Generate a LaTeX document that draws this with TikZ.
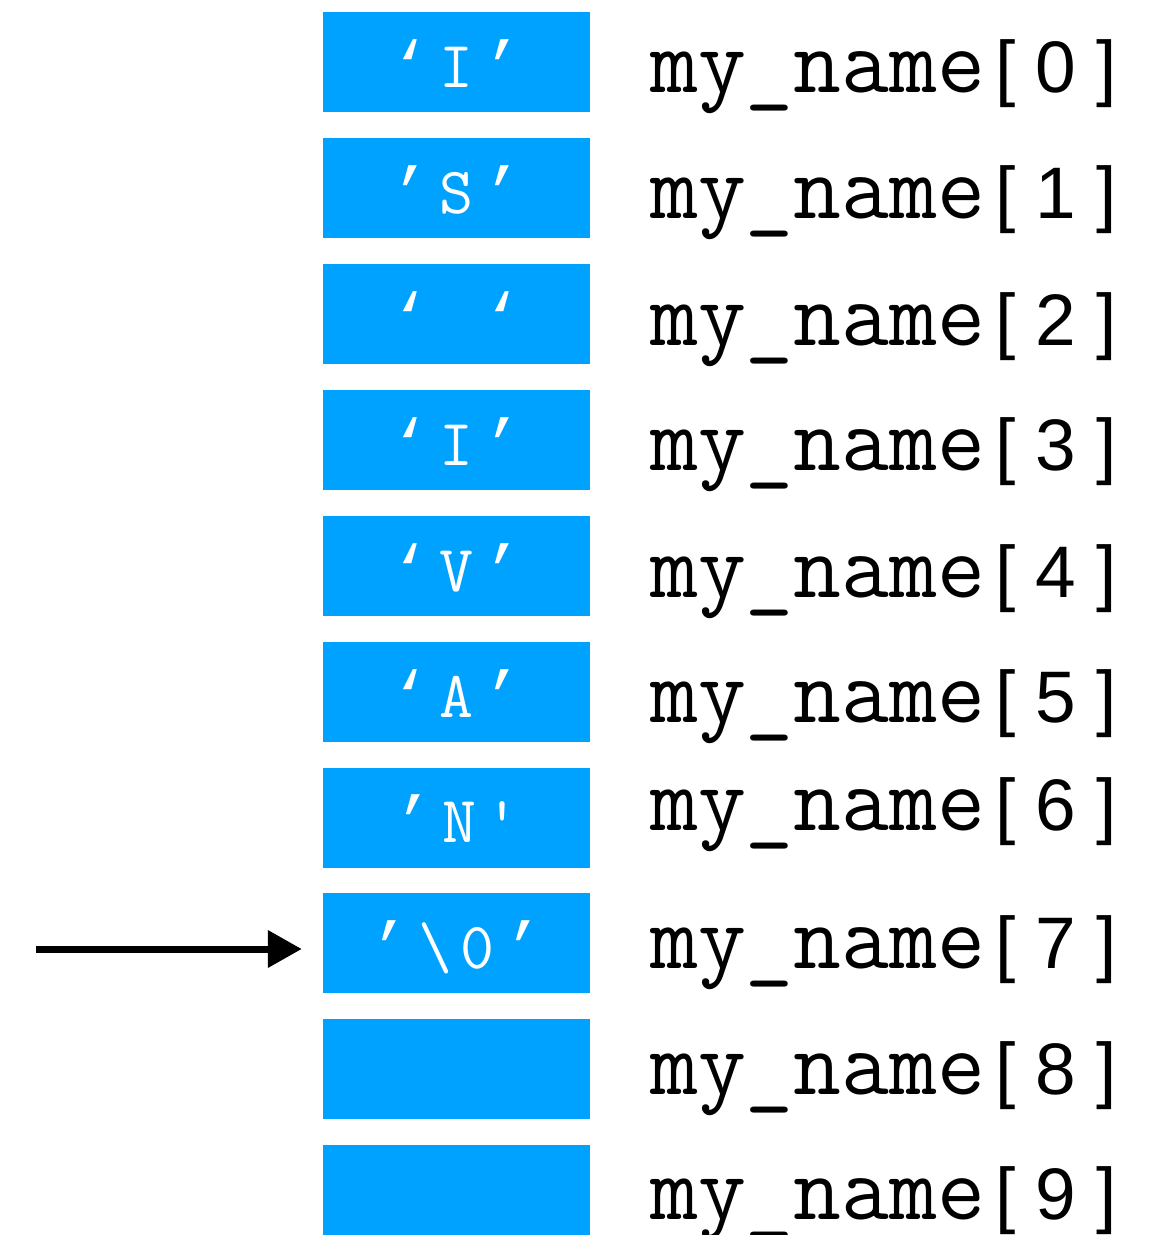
\documentclass[tikz,border=0pt]{standalone}
\usepackage{fontspec}
\usetikzlibrary{arrows.meta}
\newfontfamily\labelsans{Liberation Sans}
\newfontfamily\quotemono{Liberation Mono}
\definecolor{cellblue}{RGB}{0,162,255}
\newcommand\cgap{\hspace{9pt}}
% wedge-shaped single quotes for the cell contents
\newcommand\oq{{\quotemono ‘}}
\newcommand\cq{{\quotemono ’}}
\tikzset{
  cell/.style={rectangle, fill=cellblue, minimum width=267pt, minimum height=100pt,
    inner sep=0pt, text=white, text height=50pt, text depth=0pt,
    font=\ttfamily\fontsize{66}{66}\selectfont},
  idx/.style={anchor=base west, inner sep=0pt},
  pointer/.style={line width=7pt, -{Triangle[length=34pt,width=36pt]}}
}
\newcommand\idxlabel[1]{{\ttfamily\fontsize{93}{93}\selectfont my\_name}\hspace{10pt}{\labelsans\fontsize{73}{73}\selectfont[ #1 ]}}
\begin{document}
\begin{tikzpicture}[x=1pt,y=1pt]
  \clip (0,0) rectangle (1157,-1235);
  % array cells
  \node[cell] (b0) at (456.5,-62)    {\oq\cgap I\cgap\cq};
  \node[cell] (b1) at (456.5,-188)   {\cq\cgap S\cgap\cq};
  \node[cell] (b2) at (456.5,-314)   {\oq\cgap \ \cgap\oq};
  \node[cell] (b3) at (456.5,-440)   {\oq\cgap I\cgap\cq};
  \node[cell] (b4) at (456.5,-566)   {\oq\cgap V\cgap\cq};
  \node[cell] (b5) at (456.5,-692)   {\oq\cgap A\cgap\cq};
  \node[cell] (b6) at (456.5,-817.5) {\cq\cgap N\cgap\textquotesingle};
  \node[cell] (b7) at (456.5,-943)   {\cq\cgap\textbackslash\cgap 0\cgap\cq};
  \node[cell] (b8) at (456.5,-1069)  {};
  \node[cell] (b9) at (456.5,-1195)  {};
  % index labels
  \node[idx] (l0) at (650,-92)   {\idxlabel{0}};
  \node[idx] (l1) at (650,-218)  {\idxlabel{1}};
  \node[idx] (l2) at (650,-345)  {\idxlabel{2}};
  \node[idx] (l3) at (650,-470)  {\idxlabel{3}};
  \node[idx] (l4) at (650,-597)  {\idxlabel{4}};
  \node[idx] (l5) at (650,-722)  {\idxlabel{5}};
  \node[idx] (l6) at (650,-830)  {\idxlabel{6}};
  \node[idx] (l7) at (650,-968)  {\idxlabel{7}};
  \node[idx] (l8) at (650,-1094) {\idxlabel{8}};
  \node[idx] (l9) at (650,-1219) {\idxlabel{9}};
  % pointer to the terminator
  \coordinate (src) at (36,-949);
  \draw[pointer, shorten >=21pt] (src) -- (src -| b7.west);
\end{tikzpicture}
\end{document}
